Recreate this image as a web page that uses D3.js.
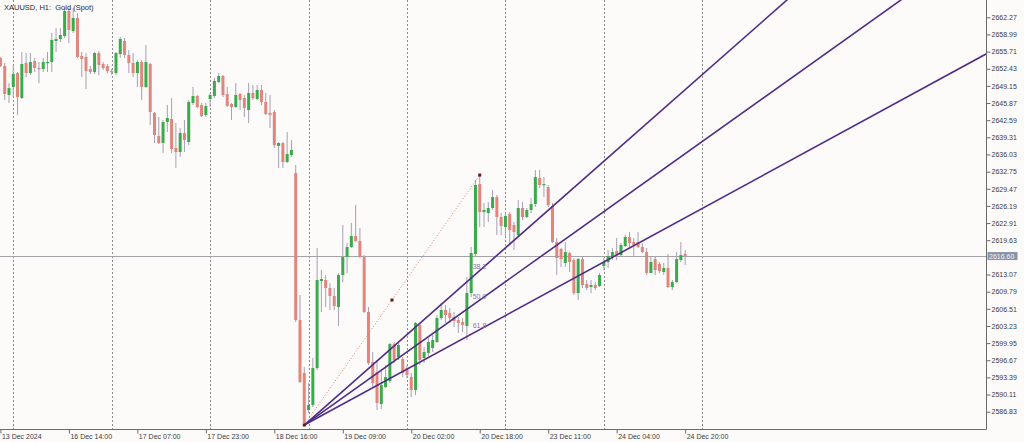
<!DOCTYPE html>
<html><head><meta charset="utf-8">
<script src="https://cdn.jsdelivr.net/npm/d3@7"></script>
<style>
html,body{margin:0;padding:0;background:#fdfafa;}
svg{display:block;font-family:"Liberation Sans",Arial,sans-serif;}
</style></head><body>
<svg id="chart" width="1024" height="442"></svg>
<script>
const symbolTitle = "XAUUSD, H1:  Gold (Spot)";
const firstBar = -3;
const opens = [2654.49,2652.95,2647.41,2648.94,2651.61,2646.83,2653.53,2651.61,2653.91,2652.57,2652.38,2653.53,2653.72,2657.74,2658.12,2658.69,2663.48,2659.65,2662.14,2654.87,2654.68,2652.38,2651.80,2655.44,2653.34,2652.95,2651.99,2651.61,2655.25,2657.74,2655.06,2653.53,2651.61,2653.72,2648.94,2653.34,2643.96,2639.56,2638.22,2642.24,2642.81,2637.27,2636.50,2640.14,2638.42,2645.88,2647.22,2645.49,2643.58,2646.64,2647.22,2649.89,2651.04,2647.60,2645.68,2645.11,2647.60,2646.83,2644.54,2647.79,2646.64,2648.36,2646.07,2643.96,2644.15,2637.65,2638.22,2634.59,2635.93,2632.48,2604.36,2594.23,2587.15,2588.10,2595.18,2611.83,2612.02,2610.49,2608.96,2606.85,2612.97,2616.42,2618.33,2620.43,2619.48,2616.42,2605.90,2596.33,2594.42,2588.29,2591.55,2592.70,2599.77,2597.29,2596.91,2595.18,2593.46,2590.97,2603.41,2597.10,2598.05,2599.01,2600.16,2604.75,2606.28,2605.71,2604.94,2604.36,2603.98,2603.22,2609.53,2616.99,2630.38,2625.02,2624.83,2625.79,2627.89,2624.07,2622.15,2624.64,2622.54,2620.62,2625.79,2624.07,2625.41,2626.55,2631.53,2630.19,2629.81,2626.17,2619.29,2617.95,2615.27,2617.18,2615.84,2609.53,2616.03,2611.25,2610.68,2611.06,2610.87,2614.69,2615.46,2616.42,2617.56,2616.80,2618.52,2620.24,2619.29,2619.29,2618.33,2617.37,2613.35,2616.03,2615.08,2613.55,2614.31,2610.68,2611.63,2615.84,2616.99];
const highs = [2654.68,2653.53,2649.70,2653.14,2651.80,2655.63,2655.44,2655.44,2654.49,2653.72,2654.49,2655.63,2659.27,2660.22,2660.22,2664.05,2664.05,2664.05,2663.09,2655.63,2655.44,2652.95,2655.63,2655.83,2653.72,2653.34,2652.38,2655.63,2658.50,2658.31,2656.02,2655.44,2654.10,2654.10,2656.97,2653.53,2644.15,2643.20,2642.62,2645.49,2646.83,2642.05,2641.09,2642.62,2646.45,2648.94,2647.41,2645.88,2645.88,2647.79,2650.66,2651.61,2651.23,2648.94,2645.88,2649.70,2647.79,2647.41,2649.70,2649.32,2649.32,2649.32,2647.79,2647.41,2644.54,2638.42,2638.42,2640.33,2638.80,2634.02,2609.15,2595.38,2592.32,2597.10,2618.14,2613.93,2612.97,2611.44,2610.49,2613.35,2622.54,2619.09,2622.92,2626.36,2621.96,2616.80,2606.85,2598.24,2596.71,2594.80,2595.76,2599.97,2600.16,2599.97,2597.29,2595.76,2594.23,2603.98,2603.79,2599.20,2600.92,2601.50,2605.32,2607.62,2607.23,2606.66,2605.90,2604.94,2604.75,2612.59,2618.33,2631.15,2632.10,2626.75,2626.94,2629.23,2628.28,2624.83,2624.83,2625.02,2623.11,2627.32,2626.94,2625.79,2627.70,2633.06,2633.06,2631.72,2630.19,2626.75,2620.05,2618.14,2619.29,2617.37,2616.22,2616.22,2616.42,2612.02,2612.02,2611.63,2613.35,2616.22,2617.75,2618.14,2620.05,2619.09,2620.62,2621.20,2620.05,2621.20,2619.09,2618.14,2616.42,2616.42,2615.46,2615.27,2616.99,2612.02,2617.37,2619.29,2617.75];
const lows = [2652.76,2646.45,2645.88,2647.02,2643.58,2646.64,2650.85,2651.23,2651.80,2649.70,2651.80,2651.80,2651.80,2655.63,2657.55,2658.31,2657.35,2659.27,2654.49,2650.85,2648.55,2651.42,2651.42,2651.23,2652.19,2651.61,2651.23,2651.23,2654.49,2654.49,2651.61,2650.85,2648.94,2646.45,2648.74,2641.67,2638.22,2638.03,2636.31,2640.33,2636.31,2633.44,2635.55,2636.50,2637.84,2645.49,2644.92,2643.20,2643.20,2645.11,2646.83,2649.70,2647.02,2645.11,2642.62,2644.92,2644.54,2643.20,2642.05,2646.45,2646.45,2645.49,2643.58,2641.09,2637.27,2633.44,2633.44,2634.40,2635.55,2603.98,2592.32,2584.28,2586.58,2587.72,2594.80,2605.90,2606.85,2606.28,2606.28,2603.22,2611.63,2613.35,2618.14,2619.29,2616.22,2605.71,2595.76,2591.55,2587.15,2587.34,2591.36,2592.32,2596.14,2596.71,2593.46,2593.27,2589.64,2590.02,2595.76,2596.14,2597.10,2598.24,2599.97,2604.36,2603.79,2603.79,2603.03,2601.88,2602.07,2600.54,2608.76,2616.42,2622.15,2622.15,2623.11,2625.41,2620.62,2620.62,2620.24,2618.71,2617.75,2620.24,2623.49,2623.88,2624.83,2625.98,2629.62,2627.89,2625.98,2619.09,2612.97,2614.50,2614.50,2613.55,2609.15,2608.19,2610.49,2610.10,2609.53,2610.10,2610.68,2613.93,2614.31,2615.84,2615.84,2616.42,2618.33,2618.33,2616.42,2618.14,2617.18,2612.97,2613.35,2612.97,2613.35,2612.97,2610.49,2610.10,2611.44,2615.46,2614.88];
const closes = [2652.95,2647.60,2648.74,2651.42,2647.02,2653.34,2651.61,2653.72,2652.57,2652.38,2653.72,2653.72,2657.93,2658.12,2658.88,2663.48,2659.84,2662.14,2654.68,2654.29,2651.99,2651.80,2655.44,2653.14,2652.57,2651.99,2651.80,2655.44,2658.12,2655.06,2653.53,2651.61,2653.72,2648.94,2653.72,2644.15,2639.76,2638.22,2642.24,2643.01,2637.08,2636.50,2640.14,2638.80,2646.07,2647.22,2645.11,2643.39,2645.30,2647.41,2650.09,2651.04,2647.41,2645.30,2645.11,2647.41,2646.45,2644.92,2647.79,2646.83,2648.36,2646.07,2643.77,2643.58,2637.84,2638.22,2634.59,2636.12,2636.89,2604.36,2592.51,2584.67,2588.10,2595.18,2612.02,2612.21,2610.49,2608.96,2607.04,2612.97,2616.42,2618.33,2620.43,2619.48,2616.42,2605.90,2596.14,2592.32,2588.49,2591.93,2593.46,2599.77,2596.71,2599.58,2594.23,2593.85,2590.97,2603.79,2596.71,2598.24,2600.16,2600.54,2604.75,2606.28,2605.32,2604.75,2604.17,2603.79,2603.41,2609.53,2617.18,2630.19,2625.02,2625.41,2625.79,2627.89,2624.07,2622.35,2624.26,2621.58,2621.20,2625.79,2624.07,2625.41,2626.55,2631.72,2630.19,2630.38,2626.36,2619.29,2616.22,2616.03,2617.37,2615.46,2609.53,2616.03,2611.06,2610.49,2611.06,2610.49,2612.97,2615.46,2616.61,2617.37,2616.80,2618.71,2620.24,2619.09,2618.71,2618.33,2617.37,2613.35,2615.46,2613.93,2613.74,2614.31,2610.68,2611.63,2616.03,2616.80,2616.60];
const priceTicks = [2586.83,2590.11,2593.39,2596.67,2599.95,2603.23,2606.51,2609.79,2613.07,2619.63,2622.91,2626.19,2629.47,2632.75,2636.03,2639.31,2642.59,2645.87,2649.15,2652.43,2655.71,2658.99,2662.27];
const currentPrice = 2616.60;
const timeLabels = ["13 Dec 2024","16 Dec 14:00","17 Dec 07:00","17 Dec 23:00","18 Dec 16:00","19 Dec 09:00","20 Dec 02:00","20 Dec 18:00","23 Dec 11:00","24 Dec 04:00","24 Dec 20:00"];
const timeLabelBars = [-3,13,29,45,61,77,93,109,125,141,157];
const daySeparatorBars = [0,23,46,69,92,115,138,161];
const fanStart = {bar:68, price:2584.28};
const fanEnd = {bar:109, price:2632.10};
const fanLevels = [38.2, 50.0, 61.8];

const plotR = 986, plotB = 429;
const svg = d3.select("#chart");
const x = d3.scaleLinear().domain([-3.1, 227.3]).range([0, plotR]);
const y = d3.scaleLinear().domain([2583.52, 2665.58]).range([plotB, 0]);

svg.append("rect").attr("width",1024).attr("height",442).attr("fill","#fdfafa");
svg.append("defs").append("clipPath").attr("id","clip")
  .append("rect").attr("x",0).attr("y",0).attr("width",plotR).attr("height",plotB);

const plot = svg.append("g").attr("clip-path","url(#clip)");

// day separators
plot.selectAll("line.sep").data(daySeparatorBars).join("line")
  .attr("x1",d=>Math.round(x(d))+0.5).attr("x2",d=>Math.round(x(d))+0.5)
  .attr("y1",0).attr("y2",plotB)
  .attr("stroke","#8a8a8a").attr("stroke-width",1).attr("stroke-dasharray","2,2");

// current price line
plot.append("line").attr("x1",0).attr("x2",plotR)
  .attr("y1",Math.round(y(currentPrice))+0.5).attr("y2",Math.round(y(currentPrice))+0.5)
  .attr("stroke","#a4a4a8").attr("stroke-width",1);

// candles
const bars = d3.range(opens.length).map(k=>({i:firstBar+k,o:opens[k],h:highs[k],l:lows[k],c:closes[k]}));
const cg = plot.append("g");
cg.selectAll("line.wick").data(bars).join("line")
  .attr("x1",d=>x(d.i)).attr("x2",d=>x(d.i))
  .attr("y1",d=>y(d.h)).attr("y2",d=>y(d.l))
  .attr("stroke","#a6a0b2").attr("stroke-width",1);
cg.selectAll("rect.body").data(bars).join("rect")
  .attr("x",d=>x(d.i)-1.5).attr("width",3)
  .attr("y",d=>y(Math.max(d.o,d.c)))
  .attr("height",d=>Math.max(1.2, Math.abs(y(d.o)-y(d.c))))
  .attr("fill",d=>d.c>=d.o ? "#3aab4c" : "#e0867d");

// fibonacci fan
const dpx = fanEnd.bar - fanStart.bar, dp = fanEnd.price - fanStart.price;
const fg = plot.append("g");
fanLevels.forEach(lv=>{
  const pAt = fanEnd.price - lv/100*dp;
  const slope = (pAt - fanStart.price)/dpx;
  const endBar = x.domain()[1];
  fg.append("line")
    .attr("x1",x(fanStart.bar)).attr("y1",y(fanStart.price))
    .attr("x2",x(endBar)).attr("y2",y(fanStart.price + slope*(endBar-fanStart.bar)))
    .attr("stroke","#4f2d86").attr("stroke-width",1.6);
  fg.append("text").attr("x",x(fanEnd.bar)-7).attr("y",y(pAt)-1.5)
    .attr("font-size",7).attr("fill","#8a70ae").text(lv.toFixed(1));
});
fg.append("line")
  .attr("x1",x(fanStart.bar)).attr("y1",y(fanStart.price))
  .attr("x2",x(fanEnd.bar)).attr("y2",y(fanEnd.price))
  .attr("stroke","#d2806e").attr("stroke-width",1).attr("stroke-dasharray","1,2");
[[fanStart.bar,fanStart.price],[(fanStart.bar+fanEnd.bar)/2,(fanStart.price+fanEnd.price)/2],[fanEnd.bar,fanEnd.price]].forEach(p=>{
  fg.append("rect").attr("x",x(p[0])-1.5).attr("y",y(p[1])-1.5).attr("width",3).attr("height",3).attr("fill","#5a1e1e");
});

// axes
const yAxis = d3.axisRight(y).tickValues(priceTicks).tickSize(4).tickPadding(1).tickFormat(d3.format(".2f"));
const ya = svg.append("g").attr("transform",`translate(${plotR+0.5},0)`).call(yAxis);
ya.select(".domain").attr("d",`M0,0V${plotB+0.5}`).attr("stroke","#6a6a6a");
ya.selectAll(".tick line").attr("stroke","#6a6a6a");
ya.selectAll("text").attr("font-size",7).attr("fill","#3a3a3a").attr("font-family","Liberation Sans, Arial, sans-serif");

const xAxis = d3.axisBottom(x).tickValues(timeLabelBars).tickSize(4).tickPadding(1).tickFormat((d,k)=>timeLabels[k]);
const xa = svg.append("g").attr("transform",`translate(0,${plotB+0.5})`).call(xAxis);
xa.select(".domain").attr("d",`M0,0H${plotR+0.5}`).attr("stroke","#6a6a6a");
xa.selectAll(".tick line").attr("stroke","#6a6a6a");
xa.selectAll("text").attr("font-size",7).attr("fill","#3a3a3a").attr("text-anchor","start").attr("dx",1)
  .attr("font-family","Liberation Sans, Arial, sans-serif");

// current price label
const cy = y(currentPrice);
svg.append("rect").attr("x",plotR+1.5).attr("y",cy-4).attr("width",30).attr("height",8).attr("fill","#8793a8");
svg.append("text").attr("x",plotR+3).attr("y",cy+2.5).attr("font-size",7).attr("fill","#f4f6fa").text(currentPrice.toFixed(2));

// title
svg.append("text").attr("x",4).attr("y",9.5).attr("font-size",7.5).attr("fill","#2a2a2a").attr("xml:space","preserve").style("white-space","pre").text(symbolTitle);
</script>
</body></html>
